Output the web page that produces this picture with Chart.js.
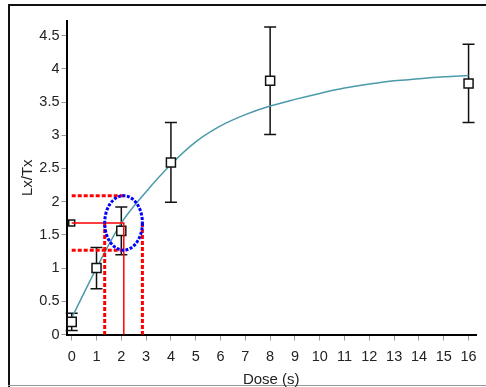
<!DOCTYPE html>
<html>
<head>
<meta charset="utf-8">
<script src="https://cdn.jsdelivr.net/npm/chart.js@4"></script>
<style>
  body { margin: 0; background: #fff; }
  canvas { display: block; }
</style>
</head>
<body>
<canvas id="grafico" width="486" height="387"></canvas>
<script>
// measured points (dose in s, Lx/Tx) and their error
const doses = [0, 1, 2, 4, 8, 16]
const lxtx = [0.19, 1.0, 1.56, 2.59, 3.82, 3.78]
const lxtxErr = [0.13, 0.31, 0.36, 0.6, 0.81, 0.59]

// fitted growth curve
const curveDose = [0, 1, 2, 3, 4, 5, 6, 7, 8, 9, 10, 11, 12, 13, 14, 15, 16]
const curveLxtx = [0.25, 1.0, 1.68, 2.15, 2.56, 2.90, 3.14, 3.31, 3.44, 3.54, 3.63, 3.71, 3.77, 3.82, 3.85, 3.88, 3.90]

// natural signal and its interpolated dose
const naturalLxtx = 1.68
const naturalDose = 2.1
const naturalLxtxRange = [1.27, 2.09]
const naturalDoseRange = [1.33, 2.85]

const xTicks = [0, 1, 2, 3, 4, 5, 6, 7, 8, 9, 10, 11, 12, 13, 14, 15, 16]
const yTicks = [0, 0.5, 1, 1.5, 2, 2.5, 3, 3.5, 4, 4.5]

const fonte = "'Liberation Sans', Arial, sans-serif"

const moldura = {
  id: 'moldura',
  beforeDraw(chart) {
    const ctx = chart.ctx
    ctx.save()
    ctx.strokeStyle = '#111'
    ctx.lineWidth = 2
    ctx.beginPath()
    ctx.moveTo(9, 387)
    ctx.lineTo(9, 5)
    ctx.lineTo(486, 5)
    ctx.stroke()
    ctx.strokeStyle = '#999'
    ctx.lineWidth = 1
    ctx.beginPath()
    ctx.moveTo(8, 385.5)
    ctx.lineTo(486, 385.5)
    ctx.stroke()
    ctx.restore()
  }
}

const barrasErro = {
  id: 'barrasErro',
  beforeDatasetsDraw(chart) {
    const ctx = chart.ctx
    const x = chart.scales.x
    const y = chart.scales.y
    ctx.save()
    ctx.strokeStyle = '#111'
    ctx.lineWidth = 1.5
    doses.forEach((d, i) => {
      const px = x.getPixelForValue(d)
      const top = y.getPixelForValue(lxtx[i] + lxtxErr[i])
      const bot = y.getPixelForValue(lxtx[i] - lxtxErr[i])
      ctx.beginPath()
      ctx.moveTo(px, top)
      ctx.lineTo(px, bot)
      ctx.moveTo(px - 6, top)
      ctx.lineTo(px + 6, top)
      ctx.moveTo(px - 6, bot)
      ctx.lineTo(px + 6, bot)
      ctx.stroke()
    })
    ctx.restore()
  }
}

const interpolacao = {
  id: 'interpolacao',
  afterDatasetsDraw(chart) {
    const ctx = chart.ctx
    const x = chart.scales.x
    const y = chart.scales.y
    const x0 = x.getPixelForValue(0)
    const y0 = y.getPixelForValue(0)
    const xn = x.getPixelForValue(naturalDose)
    const yn = y.getPixelForValue(naturalLxtx)
    ctx.save()
    ctx.strokeStyle = '#ff0000'

    // solid lines
    ctx.lineWidth = 1.5
    ctx.beginPath()
    ctx.moveTo(x0, yn)
    ctx.lineTo(xn, yn)
    ctx.lineTo(xn, y0)
    ctx.stroke()

    // dashed limits
    ctx.lineWidth = 3
    ctx.setLineDash([4, 2])
    ctx.beginPath()
    naturalLxtxRange.forEach(v => {
      const py = y.getPixelForValue(v)
      ctx.moveTo(x0, py)
      ctx.lineTo(xn, py)
    })
    naturalDoseRange.forEach(v => {
      const px = x.getPixelForValue(v)
      ctx.moveTo(px, yn)
      ctx.lineTo(px, y0)
    })
    ctx.stroke()

    // ellipse
    const xa = x.getPixelForValue(naturalDoseRange[0])
    const xb = x.getPixelForValue(naturalDoseRange[1])
    const ya = y.getPixelForValue(naturalLxtxRange[0])
    const yb = y.getPixelForValue(naturalLxtxRange[1])
    ctx.strokeStyle = '#0000ff'
    ctx.lineWidth = 3
    ctx.setLineDash([3, 1.5])
    ctx.beginPath()
    ctx.ellipse((xa + xb) / 2, (ya + yb) / 2, (xb - xa) / 2, (ya - yb) / 2, 0, 0, Math.PI * 2)
    ctx.stroke()
    ctx.restore()
  }
}

new Chart(document.getElementById('grafico'), {
  type: 'scatter',
  data: {
    datasets: [
      {
        label: 'natural',
        data: [{ x: 0, y: naturalLxtx }],
        pointStyle: 'rect',
        pointRadius: 4.2,
        borderColor: '#111',
        borderWidth: 1.5,
        backgroundColor: '#fff'
      },
      {
        label: 'medidas',
        data: doses.map((d, i) => ({ x: d, y: lxtx[i] })),
        pointStyle: 'rect',
        pointRadius: 6.4,
        borderColor: '#111',
        borderWidth: 1.5,
        backgroundColor: '#fff'
      },
      {
        label: 'ajuste',
        type: 'line',
        data: curveDose.map((d, i) => ({ x: d, y: curveLxtx[i] })),
        borderColor: '#4b9aab',
        borderWidth: 1.5,
        pointRadius: 0,
        cubicInterpolationMode: 'monotone',
        fill: false
      }
    ]
  },
  options: {
    responsive: false,
    animation: false,
    layout: { padding: { top: 21, right: 10, left: 0, bottom: 0 } },
    plugins: {
      legend: { display: false },
      tooltip: { enabled: false }
    },
    scales: {
      x: {
        type: 'linear',
        min: -0.21,
        max: 16.3,
        afterFit: s => { s.height = 52.5 },
        afterBuildTicks: s => { s.ticks = xTicks.map(v => ({ value: v })) },
        grid: { display: true, drawOnChartArea: false, drawTicks: true, tickLength: 6, tickColor: '#999' },
        border: { display: true, color: '#000', width: 2 },
        ticks: { color: '#222', padding: 8, font: { family: fonte, size: 14.5 }, callback: v => String(v) },
        title: {
          display: true,
          text: 'Dose (s)',
          color: '#222',
          font: { family: fonte, size: 15, lineHeight: 1 },
          padding: { top: 0, bottom: 0 }
        }
      },
      y: {
        type: 'linear',
        min: 0,
        max: 4.72,
        afterFit: s => { s.width = 66.5 },
        afterBuildTicks: s => { s.ticks = yTicks.map(v => ({ value: v })) },
        grid: { display: true, drawOnChartArea: false, drawTicks: true, tickLength: 5, tickColor: '#999' },
        border: { display: true, color: '#000', width: 2 },
        ticks: { color: '#222', padding: 2, font: { family: fonte, size: 14.5 }, callback: v => String(v) },
        title: {
          display: true,
          text: 'Lx/Tx',
          color: '#222',
          font: { family: fonte, size: 15, lineHeight: 1 },
          padding: { top: 20.5, bottom: 0 }
        }
      }
    }
  },
  plugins: [moldura, barrasErro, interpolacao]
})
</script>
</body>
</html>
